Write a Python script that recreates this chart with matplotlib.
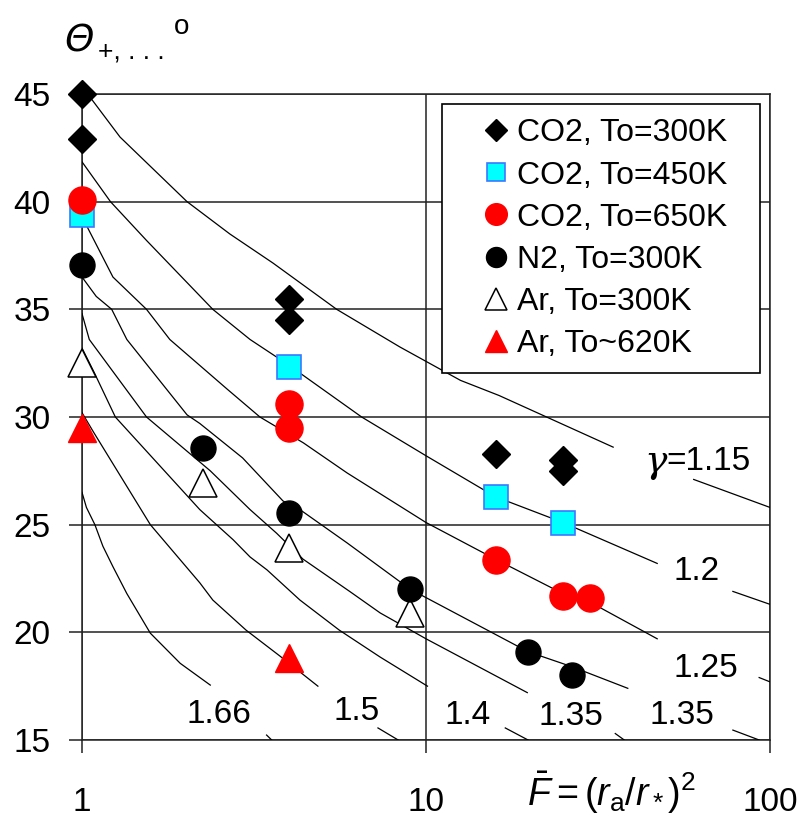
import numpy as np
import matplotlib
matplotlib.use("Agg")
import matplotlib.pyplot as plt

plt.rcParams['font.family'] = ['Liberation Sans', 'DejaVu Sans']
plt.rcParams['mathtext.fontset'] = 'custom'
plt.rcParams['mathtext.rm'] = 'Liberation Sans'
plt.rcParams['mathtext.it'] = 'Liberation Sans:italic'
plt.rcParams['mathtext.bf'] = 'Liberation Sans:bold'

# measured points: F = (ra/r*)^2, theta in degrees
co2_300_F = [1, 1, 4, 4, 16, 25, 25]
co2_300_th = [45.0, 42.9, 35.5, 34.5, 28.3, 28.0, 27.5]
co2_450_F = [1, 4, 16, 25]
co2_450_th = [39.4, 32.3, 26.3, 25.1]
co2_650_F = [1, 4, 4, 16, 25, 30]
co2_650_th = [40.1, 30.6, 29.5, 23.35, 21.7, 21.6]
n2_300_F = [1, 2.25, 4, 9, 19.8, 26.6]
n2_300_th = [37.05, 28.55, 25.55, 22.0, 19.1, 18.0]
ar_300_F = [1, 2.25, 4, 9]
ar_300_th = [32.5, 26.95, 23.9, 20.9]
ar_620_F = [1, 4]
ar_620_th = [29.5, 18.8]

# calculated curves, one per gamma: part before the label and part after it
gamma_labels = ['=1.15', '1.2', '1.25', '1.35', '1.35', '1.4', '1.5', '1.66']
curve_F = [
    [1.05, 1.29, 2.02, 2.69, 3.59, 5.5, 8.4, 12.6, 16.3, 35],
    [1.0, 1.21, 1.54, 2.4, 3.08, 4.0, 6.5, 10, 15.9, 25, 47],
    [1.03, 1.23, 1.54, 1.8, 2.64, 3.29, 4.4, 5.9, 10, 15.9, 25, 30, 47],
    [1.0, 1.1, 1.22, 1.35, 2.02, 2.2, 2.93, 3.84, 4.3, 5.9, 9.0, 19.8, 26.6, 38.6],
    [1.0, 1.05, 1.54, 2.36, 3.08, 3.68, 4.39, 6.0, 7.36, 10, 19.7],
    [1.0, 1.09, 1.25, 2.2, 2.75, 3.08, 3.45, 4.3, 5.6, 7.36, 10.1],
    [1.0, 1.08, 1.58, 2.2, 2.4, 3.0, 3.76, 4.85],
    [1.0, 1.03, 1.09, 1.15, 1.23, 1.35, 1.58, 1.93, 2.36],
]
curve_th = [
    [44.9, 43.0, 40.0, 38.5, 37.15, 35.0, 33.25, 31.7, 31.0, 28.6],
    [41.85, 40.0, 38.2, 35.0, 33.6, 32.4, 30.0, 28.2, 26.3, 25.1, 23.2],
    [38.9, 36.5, 35.0, 33.6, 31.3, 30.0, 28.8, 27.4, 25.1, 23.4, 21.8, 21.4, 19.7],
    [36.5, 35.6, 35.0, 33.6, 30.1, 29.7, 28.1, 26.1, 25.7, 24.15, 22.0, 19.1, 18.4, 17.4],
    [34.8, 33.6, 30.0, 27.5, 25.7, 24.6, 23.4, 21.9, 20.9, 19.7, 17.2],
    [33.2, 32.0, 30.0, 25.7, 24.3, 23.5, 22.9, 21.5, 20.1, 18.85, 17.5],
    [30.2, 29.3, 25.0, 22.3, 21.5, 20.1, 18.9, 17.5],
    [26.5, 25.8, 25.0, 24.0, 23.05, 21.8, 19.96, 18.56, 17.55],
]
tail_F = [[60, 100], [78, 100], [93, 100], [78, 93], [35.5, 37.7], [17, 19.8], [7.25, 8.3], [3.44, 3.56]]
tail_th = [[27.1, 25.8], [21.9, 21.3], [17.9, 17.7], [15.46, 15.0], [15.3, 15.0], [15.56, 15.0], [15.56, 15.0], [15.23, 15.0]]
label_F = [50.1, 61.3, 65.2, 55.5, 26.4, 13.2, 6.3, 2.5]
label_th = [28.1, 23.0, 18.5, 16.3, 16.25, 16.3, 16.5, 16.35]

fig = plt.figure(figsize=(8.01, 8.23), dpi=100)
ax = fig.add_axes([82 / 801, 1 - 740 / 823, 688 / 801, 646 / 823])

ax.set_xscale('log')
ax.set_xlim(1, 100)
ax.set_ylim(15, 45)
ax.set_xticks([1, 10, 100])
ax.set_xticklabels(['1', '10', '100'])
ax.xaxis.set_minor_locator(matplotlib.ticker.NullLocator())
ax.set_yticks([15, 20, 25, 30, 35, 40, 45])
ax.tick_params(axis='both', direction='out', length=9.5, width=1.1, color='#222222',
               labelsize=24)
ax.tick_params(axis='x', pad=24)
ax.tick_params(axis='y', pad=13)
ax.grid(True, color='#222222', linewidth=1.1)
for sp in ax.spines.values():
    sp.set_color('#222222')
    sp.set_linewidth(1.1)

for i in range(len(curve_F)):
    ax.plot(curve_F[i], curve_th[i], color='black', linewidth=0.9, zorder=3)
    ax.plot(tail_F[i], tail_th[i], color='black', linewidth=0.9, zorder=3)
    ha = 'left' if i == 0 else 'center'
    ax.text(label_F[i], label_th[i], gamma_labels[i], fontsize=24,
            ha=ha, va='center_baseline', zorder=3)
# gamma sign in front of the first label
ax.text(label_F[0], label_th[0], 'γ', fontsize=27, family='DejaVu Serif', style='italic',
        ha='right', va='center_baseline', zorder=3)

ax.plot(co2_300_F, co2_300_th, 'D', ms=14.3, color='black', label='CO2, To=300K', zorder=5, clip_on=False)
ax.plot(co2_450_F, co2_450_th, 's', ms=17, mfc='#00FFFF', mec='#3C78FF', mew=1.2,
        label='CO2, To=450K', zorder=5, clip_on=False)
ax.plot(co2_650_F, co2_650_th, 'o', ms=19.5, color='#FF0000', label='CO2, To=650K', zorder=5, clip_on=False)
ax.plot(n2_300_F, n2_300_th, 'o', ms=18, color='black', label='N2, To=300K', zorder=5, clip_on=False)
ax.plot(ar_300_F, ar_300_th, '^', ms=20, mfc='white', mec='black', mew=1.1,
        label='Ar, To=300K', zorder=4, clip_on=False)
ax.plot(ar_620_F, ar_620_th, '^', ms=20, color='#FF0000', label='Ar, To~620K', zorder=5, clip_on=False)

leg = ax.legend(loc='upper left', bbox_to_anchor=(0.5233, 0.5789, 0.4622, 0.4056),
                mode='expand', borderaxespad=0, fontsize=23, markerscale=0.8,
                handlelength=2.5, handletextpad=-0.6, borderpad=0.45, labelspacing=0.38,
                fancybox=False, framealpha=1, numpoints=1)
leg.get_frame().set_edgecolor('black')
leg.get_frame().set_linewidth(1.2)
leg.set_zorder(10)

# axis titles
fig.text(64 / 801, 1 - 52 / 823, 'Θ', fontsize=27, family='DejaVu Sans', style='italic',
         va='baseline')
fig.text(98 / 801, 1 - 58 / 823, '+, . . .', fontsize=19, va='baseline')
fig.text(174 / 801, 1 - 34 / 823, 'o', fontsize=20, va='baseline')
fig.text(612 / 801, 1 - 806 / 823, r'$\bar{F}=(r_{\rm a}/r_*)^2$', fontsize=27,
         ha='center', va='baseline')

fig.savefig('out.png', dpi=100)
